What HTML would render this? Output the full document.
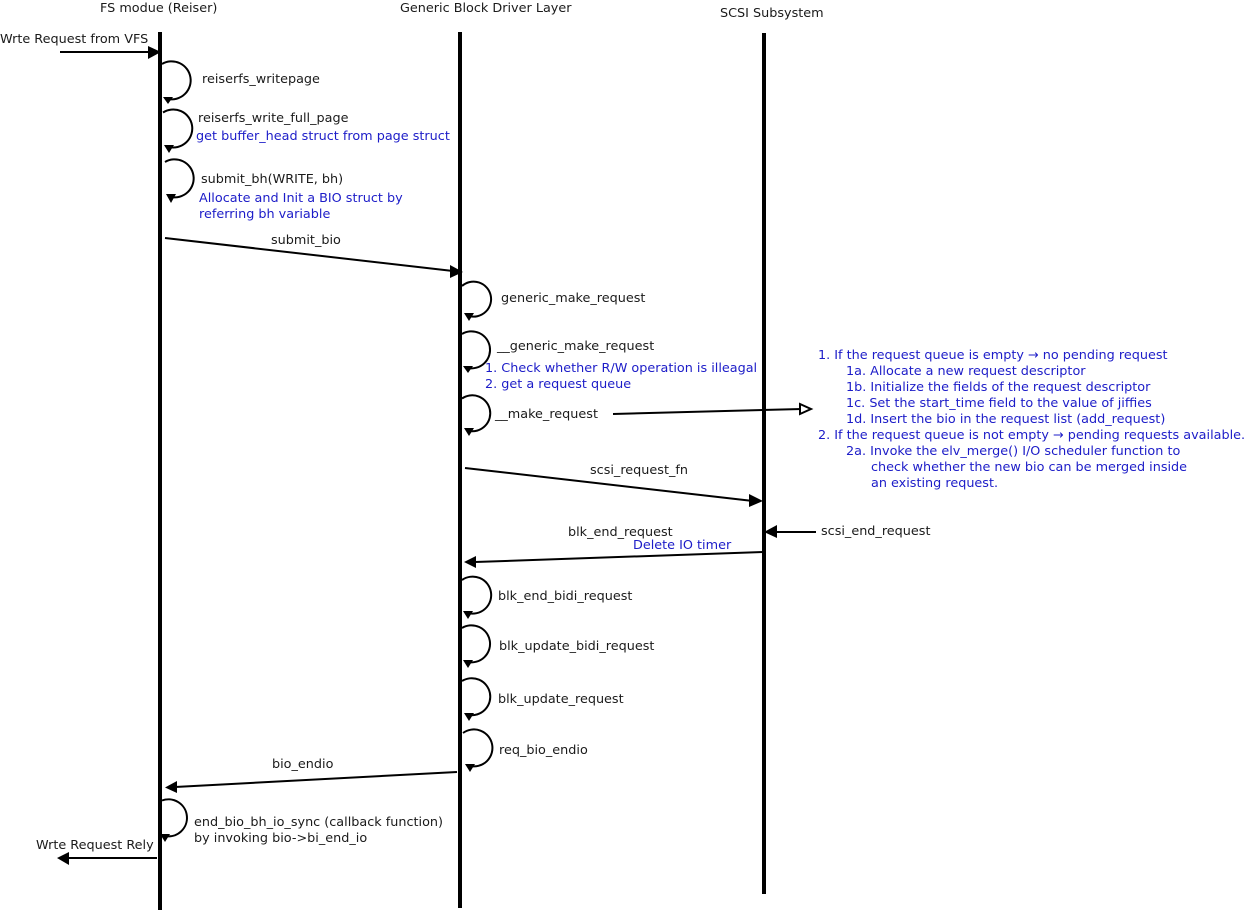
<!DOCTYPE html>
<html><head><meta charset="utf-8"><style>
html,body{margin:0;padding:0;background:#fff;width:1246px;height:914px;overflow:hidden}
svg{display:block}
text{font-family:"DejaVu Sans",sans-serif;font-size:12.8px;fill:#1a1a1a;white-space:pre}
.b text{fill:#1c1cc8}
.l{fill:none;stroke:#000;stroke-width:2}
.v{stroke:#000;stroke-width:4}
.h{fill:#000}
</style></head><body>
<svg width="1246" height="914" viewBox="0 0 1246 914" xmlns="http://www.w3.org/2000/svg">
<line class="v" x1="160" y1="32" x2="160" y2="910"/>
<line class="v" x1="460" y1="32" x2="460" y2="908"/>
<line class="v" x1="764" y1="33" x2="764" y2="894"/>

<text x="100" y="12">FS modue (Reiser)</text>
<text x="400" y="12">Generic Block Driver Layer</text>
<text x="720" y="17">SCSI Subsystem</text>
<text x="0" y="43">Wrte Request from VFS</text>
<text x="202" y="83">reiserfs_writepage</text>
<text x="198" y="122">reiserfs_write_full_page</text>
<text x="201" y="183">submit_bh(WRITE, bh)</text>
<text x="271" y="244">submit_bio</text>
<text x="501" y="302">generic_make_request</text>
<text x="497" y="350">__generic_make_request</text>
<text x="495" y="418">__make_request</text>
<text x="590" y="474">scsi_request_fn</text>
<text x="568" y="536">blk_end_request</text>
<text x="821" y="535">scsi_end_request</text>
<text x="498" y="600">blk_end_bidi_request</text>
<text x="499" y="650">blk_update_bidi_request</text>
<text x="498" y="703">blk_update_request</text>
<text x="499" y="754">req_bio_endio</text>
<text x="272" y="768">bio_endio</text>
<text x="194" y="826">end_bio_bh_io_sync (callback function)</text>
<text x="194" y="842">by invoking bio-&gt;bi_end_io</text>
<text x="36" y="849">Wrte Request Rely</text>

<g class="b">
<text x="196" y="140">get buffer_head struct from page struct</text>
<text x="199" y="202">Allocate and Init a BIO struct by</text>
<text x="199" y="218">referring bh variable</text>
<text x="485" y="372">1. Check whether R/W operation is illeagal</text>
<text x="485" y="388">2. get a request queue</text>
<text x="633" y="549">Delete IO timer</text>
<text x="818" y="359">1. If the request queue is empty → no pending request</text>
<text x="846" y="375">1a. Allocate a new request descriptor</text>
<text x="846" y="391">1b. Initialize the fields of the request descriptor</text>
<text x="846" y="407">1c. Set the start_time field to the value of jiffies</text>
<text x="846" y="423">1d. Insert the bio in the request list (add_request)</text>
<text x="818" y="439">2. If the request queue is not empty → pending requests available.</text>
<text x="846" y="455">2a. Invoke the elv_merge() I/O scheduler function to</text>
<text x="871" y="471">check whether the new bio can be merged inside</text>
<text x="871" y="487">an existing request.</text>
</g>

<!-- self loops -->
<path class="l" d="M162 64A19 19 0 1 1 168 99"/><path class="h" d="M163 97L173 97L168 104Z"/>
<path class="l" d="M163 112.5A19 19 0 1 1 169 147"/><path class="h" d="M164 145L174 145L169 153Z"/>
<path class="l" d="M165 162A19 19 0 1 1 171 197"/><path class="h" d="M166 194L176 194L171 203Z"/>
<path class="l" d="M462 286A17.5 17.5 0 1 1 469 316"/><path class="h" d="M464 313L474 313L469 321Z"/>
<path class="l" d="M462 334A18.5 18.5 0 1 1 468 368"/><path class="h" d="M463 366L473 366L468 373Z"/>
<path class="l" d="M462 398.5A18 18 0 1 1 469 431"/><path class="h" d="M464 428L474 428L469 436Z"/>
<path class="l" d="M462 580A18.5 18.5 0 1 1 468 613"/><path class="h" d="M463 611L473 611L468 619Z"/>
<path class="l" d="M462 628A18.5 18.5 0 1 1 468 662"/><path class="h" d="M463 660L473 660L468 668Z"/>
<path class="l" d="M462 681A18.5 18.5 0 1 1 469 715"/><path class="h" d="M464 713L474 713L469 721Z"/>
<path class="l" d="M463 733A18.5 18.5 0 1 1 470 766"/><path class="h" d="M465 764L475 764L470 772Z"/>
<path class="l" d="M162 800.5A18.5 18.5 0 1 1 165 836"/><path class="h" d="M160 834L170 834L165 842Z"/>

<!-- arrows -->
<line class="l" x1="60" y1="52" x2="150" y2="52"/><path class="h" d="M148 46L161 52L148 59Z"/>
<line class="l" x1="165" y1="238" x2="453" y2="271"/><path class="h" d="M450 265L463 272L450 278Z"/>
<line class="l" x1="465" y1="468" x2="753" y2="501"/><path class="h" d="M749 494L763 501L749 507Z"/>
<line class="l" x1="613" y1="414" x2="802" y2="409"/><path d="M800 404L811 409L800 414Z" fill="#fff" stroke="#000" stroke-width="2"/>
<line class="l" x1="775" y1="532" x2="816" y2="532"/><path class="h" d="M777 525L764 532L777 538Z"/>
<line class="l" x1="764" y1="552" x2="475" y2="562"/><path class="h" d="M476 556L464 562L476 568Z"/>
<line class="l" x1="457" y1="772" x2="175" y2="787"/><path class="h" d="M177 781L165 787.5L177 793Z"/>
<line class="l" x1="157" y1="858" x2="68" y2="858"/><path class="h" d="M69 852L57 858L69 865Z"/>
</svg>
</body></html>
